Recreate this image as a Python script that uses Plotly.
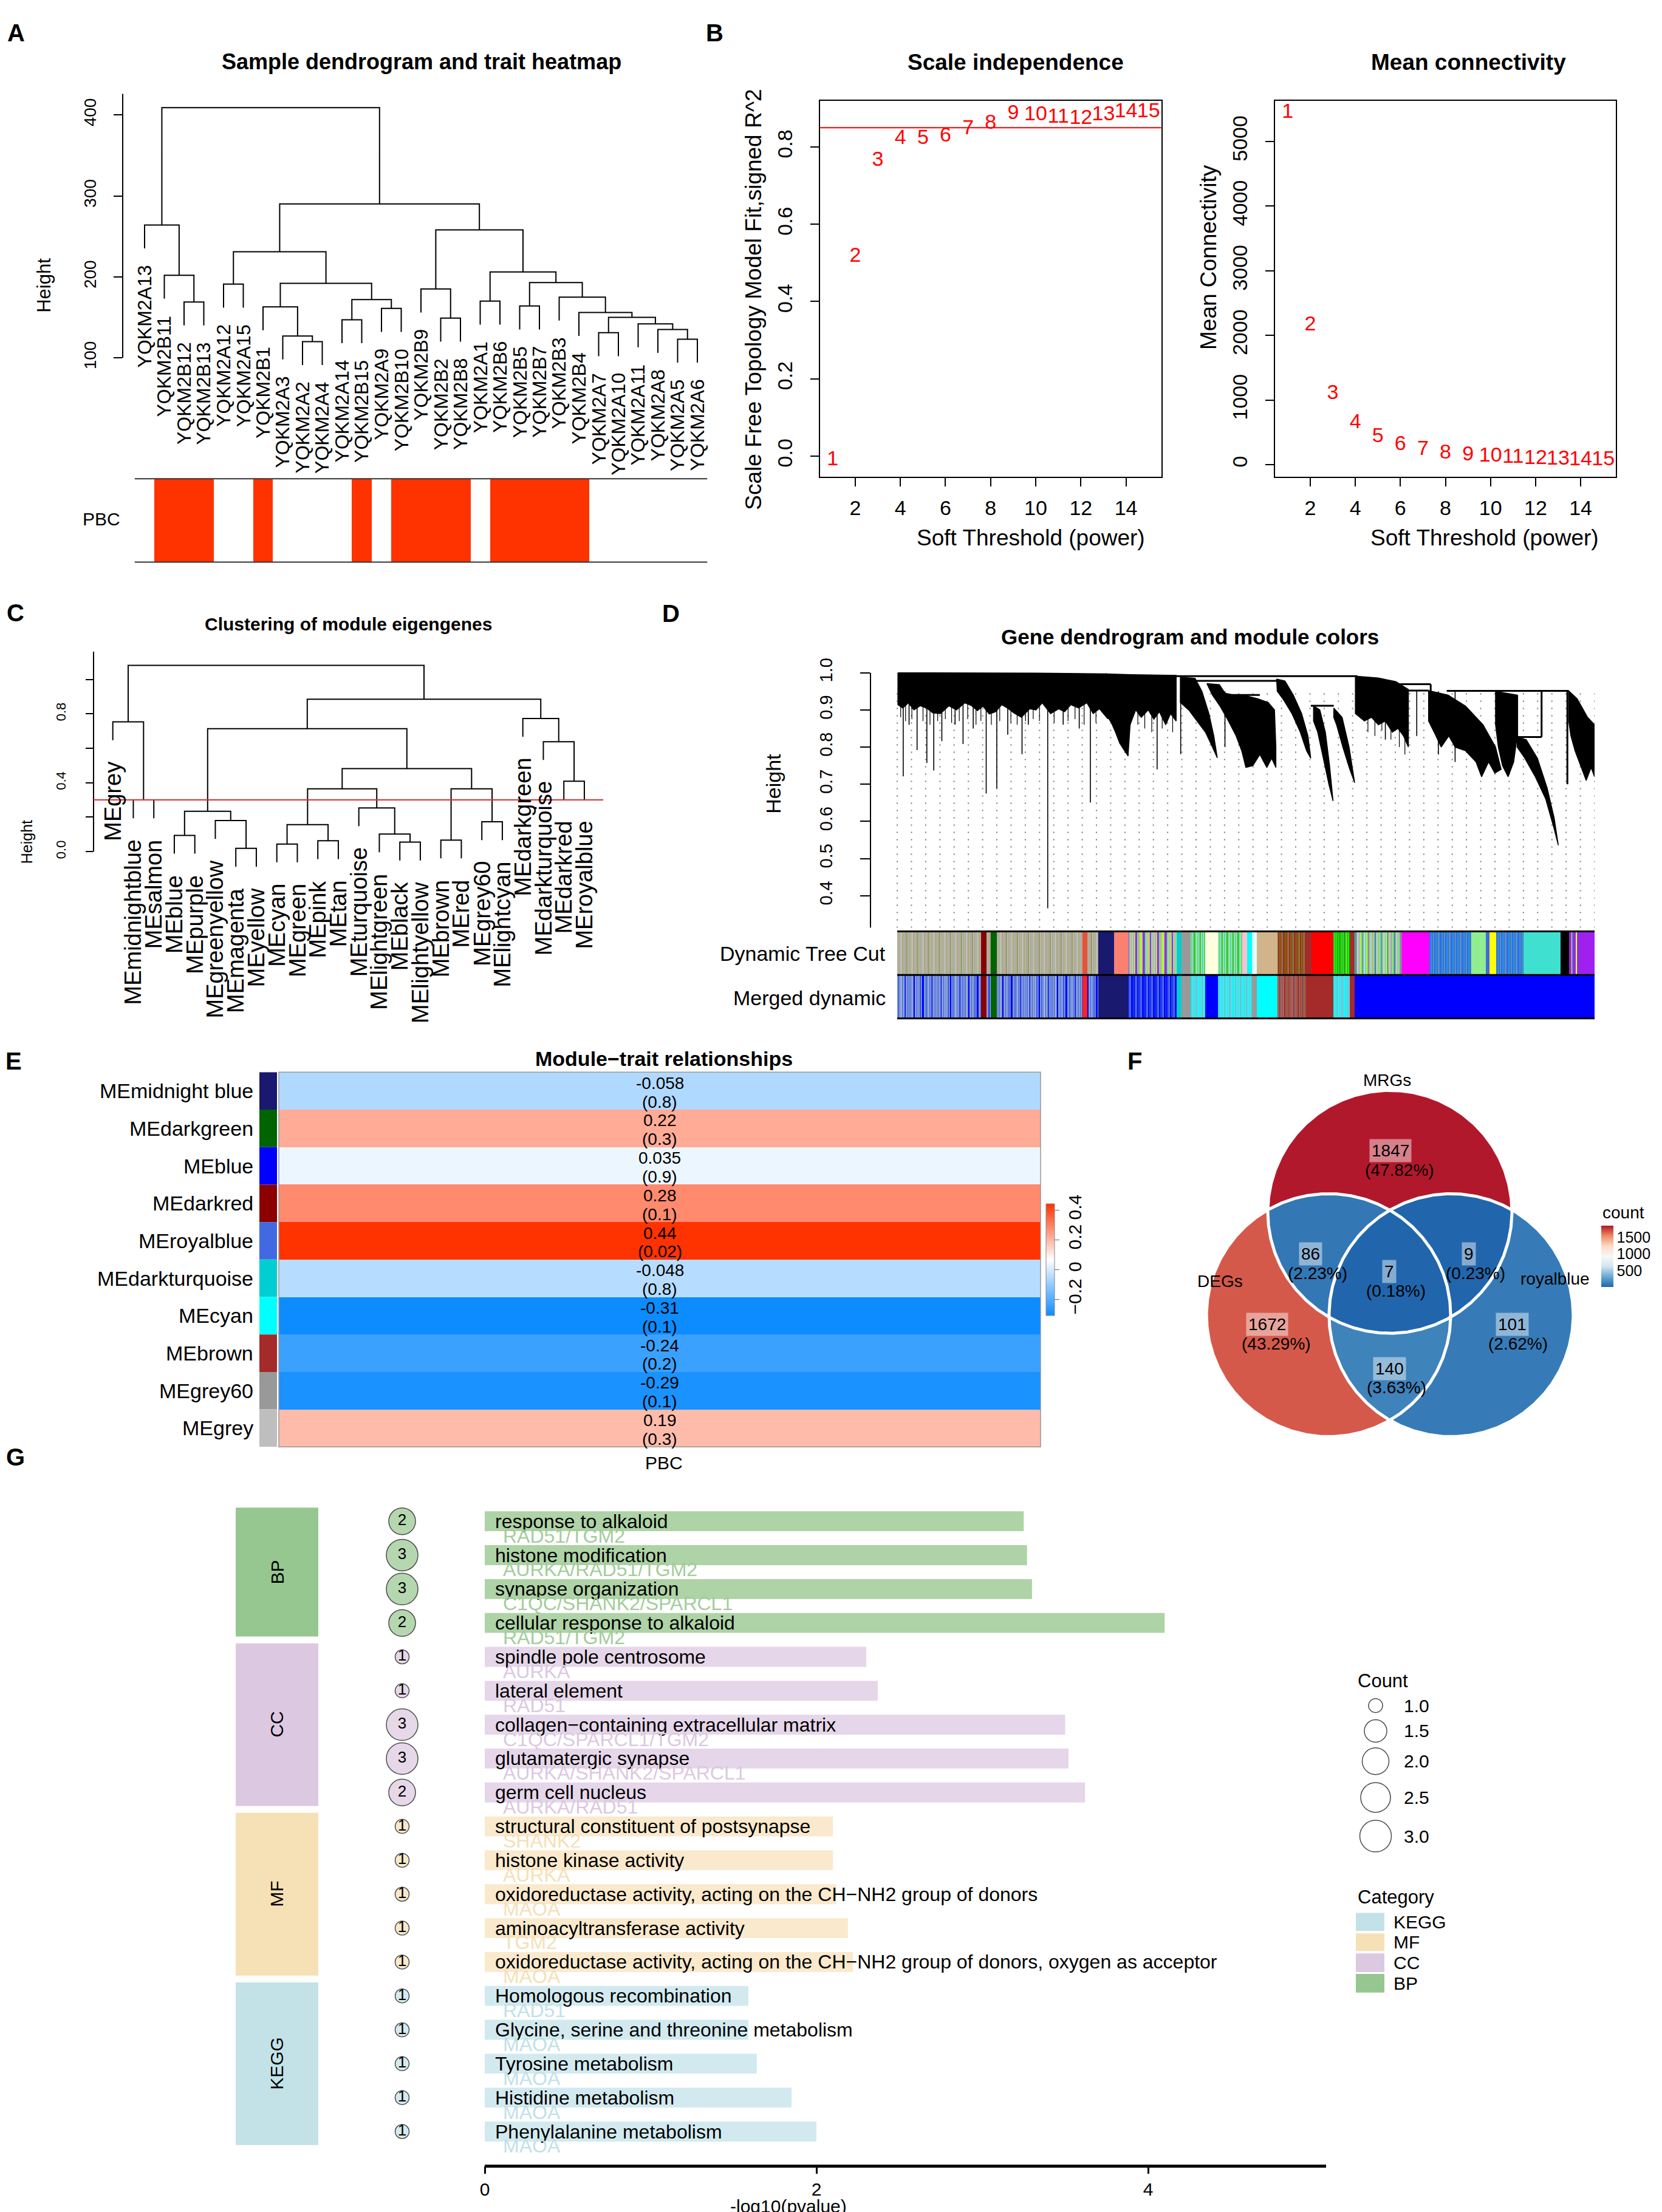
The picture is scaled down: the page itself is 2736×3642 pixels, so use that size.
import numpy as np
import plotly.graph_objects as go

W, H = 2736, 3642
FONT = "Liberation Sans"

# ======================= DATA =======================
# ---- A: sample dendrogram (leaf order, merges) and PBC trait ----
A_leaves = ["YQKM2A13", "YQKM2B11", "YQKM2B12", "YQKM2B13", "YQKM2A12", "YQKM2A15", "YQKM2B1",
            "YQKM2A3", "YQKM2A2", "YQKM2A4", "YQKM2A14", "YQKM2B15", "YQKM2A9", "YQKM2B10",
            "YQKM2B9", "YQKM2B2", "YQKM2B8", "YQKM2A1", "YQKM2B6", "YQKM2B5", "YQKM2B7",
            "YQKM2B3", "YQKM2B4", "YQKM2A7", "YQKM2A10", "YQKM2A11", "YQKM2A8", "YQKM2A5", "YQKM2A6"]
# (child1, child2, height): negative = leaf -(i+1), non-negative = index of an earlier merge
A_merges = [(-3, -4, 169), (-2, 0, 202), (-1, 1, 264), (-5, -6, 191), (-9, -10, 120), (-8, 4, 127),
            (-7, 5, 163), (-11, -12, 147), (-13, -14, 161), (7, 8, 172), (6, 9, 192), (3, 10, 231),
            (-16, -17, 149), (-15, 12, 185), (-18, -19, 170), (-20, -21, 164), (-28, -29, 123),
            (-27, 16, 135), (-26, 17, 142), (-24, -25, 131), (19, 18, 150), (-23, 20, 156),
            (-22, 21, 175), (15, 22, 193), (14, 23, 206), (13, 24, 258), (11, 25, 290), (2, 26, 409)]
A_pbc = [0, 1, 1, 1, 0, 0, 1, 0, 0, 0, 0, 1, 0, 1, 1, 1, 1, 0, 1, 1, 1, 1, 1, 0, 0, 0, 0, 0, 0]

# ---- B: soft threshold ----
B_power = list(range(1, 16))
B_sft_r2 = [-0.01, 0.516, 0.764, 0.821, 0.821, 0.827, 0.846, 0.861, 0.885, 0.883, 0.876, 0.873, 0.882, 0.891, 0.891]
B_mean_k = [5450, 2160, 1099, 643, 429, 305, 230, 177, 150, 130, 110, 95, 85, 75, 68]
B_r2_cut = 0.85

# ---- C: module eigengene clustering ----
C_leaves = ["MEgrey", "MEmidnightblue", "MEsalmon", "MEblue", "MEpurple", "MEgreenyellow", "MEmagenta",
            "MEyellow", "MEcyan", "MEgreen", "MEpink", "MEtan", "MEturquoise", "MElightgreen", "MEblack",
            "MElightyellow", "MEbrown", "MEred", "MEgrey60", "MElightcyan", "MEdarkgreen",
            "MEdarkturquoise", "MEdarkred", "MEroyalblue"]
C_merges = [(-2, -3, 0.300), (-1, 0, 0.753), (-4, -5, 0.094), (-7, -8, 0.019), (-6, 3, 0.180), (2, 4, 0.234),
            (-9, -10, 0.044), (-11, -12, 0.063), (6, 7, 0.157), (-15, -16, 0.055), (-14, 9, 0.102),
            (-13, 10, 0.254), (8, 11, 0.365), (-17, -18, 0.067), (-19, -20, 0.173), (13, 14, 0.365),
            (12, 15, 0.482), (5, 16, 0.714), (-23, -24, 0.409), (-22, 18, 0.638), (-21, 19, 0.773),
            (17, 20, 0.885), (1, 21, 1.081)]
C_cut = 0.3

# ---- D: gene dendrogram (outline: leaf fraction f, height v) ----
D_polys = [
    [(0.001, 1.0), (0.10, 1.0), (0.20, 0.999), (0.30, 0.997), (0.302, 0.876), (0.29, 0.903), (0.281, 0.89),
     (0.272, 0.919), (0.26, 0.905), (0.249, 0.914), (0.24, 0.895), (0.2315, 0.903), (0.22, 0.89), (0.208, 0.919),
     (0.199, 0.90), (0.19, 0.903), (0.178, 0.88), (0.167, 0.892), (0.158, 0.905), (0.15, 0.914), (0.141, 0.895),
     (0.132, 0.889), (0.123, 0.91), (0.115, 0.898), (0.106, 0.912), (0.097, 0.919), (0.085, 0.90), (0.074, 0.911),
     (0.062, 0.89), (0.051, 0.892), (0.042, 0.905), (0.033, 0.911), (0.024, 0.90), (0.016, 0.919), (0.008, 0.905),
     (0.001, 0.914)],
    [(0.298, 0.997), (0.334, 0.995), (0.334, 0.86), (0.331, 0.776), (0.326, 0.79), (0.319, 0.811), (0.313, 0.84),
     (0.307, 0.866), (0.302, 0.88)],
    [(0.334, 0.995), (0.40, 0.993), (0.40, 0.87), (0.392, 0.89), (0.385, 0.86), (0.376, 0.895), (0.368, 0.875),
     (0.36, 0.90), (0.35, 0.88), (0.342, 0.90), (0.334, 0.86)],
    [(0.406, 0.988), (0.427, 0.985), (0.437, 0.95), (0.447, 0.89), (0.454, 0.83), (0.459, 0.771), (0.452, 0.80),
     (0.442, 0.84), (0.43, 0.87), (0.418, 0.90), (0.406, 0.92)],
    [(0.444, 0.971), (0.462, 0.968), (0.47, 0.945), (0.482, 0.94), (0.50, 0.938), (0.517, 0.93), (0.532, 0.92),
     (0.541, 0.90), (0.543, 0.80), (0.543, 0.745), (0.537, 0.77), (0.53, 0.745), (0.52, 0.78), (0.51, 0.75),
     (0.50, 0.745), (0.494, 0.79), (0.486, 0.83), (0.475, 0.87), (0.463, 0.91), (0.452, 0.94)],
    [(0.544, 0.983), (0.556, 0.978), (0.568, 0.94), (0.58, 0.89), (0.589, 0.83), (0.593, 0.77), (0.587, 0.79),
     (0.578, 0.84), (0.566, 0.89), (0.553, 0.93), (0.545, 0.95)],
    [(0.597, 0.911), (0.606, 0.90), (0.614, 0.84), (0.62, 0.75), (0.625, 0.655), (0.619, 0.70), (0.611, 0.77),
     (0.603, 0.84), (0.597, 0.87)],
    [(0.626, 0.905), (0.638, 0.88), (0.648, 0.80), (0.656, 0.704), (0.649, 0.74), (0.639, 0.80), (0.63, 0.86),
     (0.626, 0.88)],
    [(0.657, 0.991), (0.69, 0.986), (0.715, 0.976), (0.733, 0.955), (0.733, 0.80), (0.726, 0.83), (0.718, 0.85),
     (0.71, 0.84), (0.70, 0.87), (0.69, 0.86), (0.68, 0.88), (0.67, 0.87), (0.657, 0.89)],
    [(0.762, 0.952), (0.79, 0.94), (0.815, 0.91), (0.84, 0.86), (0.858, 0.80), (0.866, 0.74), (0.857, 0.73),
     (0.848, 0.76), (0.838, 0.72), (0.83, 0.76), (0.815, 0.79), (0.80, 0.80), (0.791, 0.83), (0.78, 0.80),
     (0.77, 0.84), (0.762, 0.87)],
    [(0.858, 0.95), (0.889, 0.94), (0.889, 0.83), (0.884, 0.76), (0.876, 0.72), (0.868, 0.75), (0.862, 0.80),
     (0.858, 0.86)],
    [(0.889, 0.827), (0.902, 0.82), (0.918, 0.77), (0.932, 0.69), (0.942, 0.61), (0.948, 0.536), (0.942, 0.58),
     (0.93, 0.66), (0.915, 0.72), (0.90, 0.77), (0.889, 0.80)],
    [(0.963, 0.951), (0.975, 0.93), (0.99, 0.88), (1.0, 0.86), (1.0, 0.72), (0.995, 0.745), (0.988, 0.71),
     (0.98, 0.75), (0.972, 0.79), (0.966, 0.83), (0.963, 0.87)],
]
D_links = [(0.991, 0.39, 0.66), (0.978, 0.427, 0.544), (0.969, 0.66, 0.765), (0.952, 0.733, 0.762),
           (0.951, 0.788, 0.963), (0.911, 0.593, 0.626), (0.827, 0.889, 0.924), (0.94, 0.47, 0.52)]
D_verticals = [(0.924, 0.951, 0.827), (0.961, 0.951, 0.70), (0.889, 0.94, 0.827), (0.765, 0.969, 0.95)]
D_spikes = [(0.0086, 0.721), (0.017, 0.86), (0.0285, 0.792), (0.0425, 0.757), (0.0524, 0.737), (0.064, 0.816),
            (0.083, 0.86), (0.0944, 0.808), (0.109, 0.85), (0.1276, 0.675), (0.1428, 0.689), (0.1585, 0.833),
            (0.179, 0.781), (0.188, 0.86), (0.2158, 0.366), (0.238, 0.86), (0.261, 0.85), (0.277, 0.651),
            (0.3307, 0.776), (0.3727, 0.740), (0.4065, 0.781), (0.47, 0.80), (0.70, 0.82), (0.745, 0.83),
            (0.776, 0.78), (0.80, 0.76)]
D_hairs = [(0.005, 0.88), (0.012, 0.87), (0.021, 0.875), (0.037, 0.87), (0.047, 0.86), (0.058, 0.87),
           (0.069, 0.875), (0.078, 0.865), (0.089, 0.87), (0.101, 0.875), (0.113, 0.86), (0.12, 0.87),
           (0.135, 0.86), (0.147, 0.87), (0.163, 0.865), (0.172, 0.86), (0.184, 0.87), (0.195, 0.875),
           (0.204, 0.87), (0.225, 0.865), (0.245, 0.87), (0.255, 0.875), (0.268, 0.86), (0.285, 0.865),
           (0.345, 0.86), (0.355, 0.85), (0.365, 0.84), (0.38, 0.85), (0.395, 0.84), (0.675, 0.84),
           (0.685, 0.83), (0.695, 0.845), (0.708, 0.82), (0.72, 0.80), (0.728, 0.78)]
D_dtc_segments = [
    (0.000, 'mixA'), (0.120, '#8B0000'), (0.128, 'mixA'), (0.134, '#006400'), (0.143, 'mixA'), (0.266, '#E8503A'),
    (0.273, 'mixA'), (0.288, '#191970'), (0.311, '#FA8072'), (0.332, 'mixB'), (0.401, '#00CED1'), (0.408, '#999999'),
    (0.421, 'mixG'), (0.442, '#FFFFE0'), (0.460, 'mixG'), (0.495, '#FFC0CB'), (0.502, '#00FFFF'), (0.509, '#E0FFFF'),
    (0.516, '#D2B48C'), (0.545, 'mixBr'), (0.586, '#A52A2A'), (0.594, '#FF0000'), (0.625, 'mixGr'), (0.649, '#A52A2A'),
    (0.656, 'mixC'), (0.723, '#FF00FF'), (0.763, 'mixRB'), (0.823, '#90EE90'), (0.844, '#4169E1'), (0.849, '#FFFF00'),
    (0.859, 'mixRB'), (0.898, '#40E0D0'), (0.951, '#000000'), (0.963, 'mixPY'), (0.978, '#A020F0')]
D_merged_segments = [
    (0.000, 'mixBl'), (0.120, '#8B0000'), (0.128, 'mixBl'), (0.134, '#006400'), (0.143, 'mixBl'), (0.266, '#FF2020'),
    (0.273, 'mixBl'), (0.288, '#191970'), (0.331, 'mixBl2'), (0.401, '#00CED1'), (0.408, '#999999'), (0.421, 'mixCy'),
    (0.442, '#0000FF'), (0.460, 'mixCy'), (0.509, '#999999'), (0.516, '#00FFFF'), (0.545, 'mixBrM'), (0.586, '#A52A2A'),
    (0.625, 'mixCy'), (0.649, '#A52A2A'), (0.656, '#0000FF')]
D_mix = {
    'mixA': ['#B5B08C', '#A9A9A9', '#C8B88E', '#98AE88', '#BDBDBD', '#B0A070', '#A6B48E', '#C4A8A4', '#9AA2B4',
             '#B4BC6C', '#8E9A78', '#C9C2A0'],
    'mixB': ['#ADFF2F', '#D2B48C', '#A020F0', '#4169E1', '#BEBEBE', '#B8B070', '#90EE90', '#C0A0C0'],
    'mixG': ['#90EE90', '#66CDAA', '#7FFFD4', '#8FBC8F', '#32CD32', '#A0D8B0'],
    'mixBr': ['#8B4513', '#A0522D', '#6B8E23', '#8B7355', '#A52A2A', '#808000'],
    'mixGr': ['#00C000', '#32CD32', '#00FF00', '#228B22', '#7CFC00'],
    'mixC': ['#A9A9A9', '#ADFF2F', '#66CDAA', '#4682B4', '#B8B080', '#7FFFD4', '#BEBEBE'],
    'mixRB': ['#4169E1', '#1E90FF', '#4682B4', '#2F6FBF', '#5B8FD0', '#1C75C8'],
    'mixPY': ['#A020F0', '#FFFF00', '#4169E1', '#A020F0', '#8A2BE2'],
    'mixBl': ['#7A94D4', '#4169E1', '#8CA0D8', '#5A7FE0', '#A0B0DC', '#3050E8', '#9AA8C8', '#4F6FE8', '#0000FF',
              '#87A0D8'],
    'mixBl2': ['#0000FF', '#4169E1', '#1E3CFF', '#6A8FE8', '#0000FF', '#3A5FE0'],
    'mixCy': ['#00FFFF', '#40E0E0', '#7FDDE8', '#00E5EE', '#5FD0D8', '#87CEFA'],
    'mixBrM': ['#A52A2A', '#8B5A5A', '#996666', '#A0522D', '#B06060'],
}
D_stripe_w = [1, 2, 1, 1, 3, 1, 2, 2, 1, 1, 2, 1]

# ---- E: module-trait relationships ----
E_modules = ["MEmidnight blue", "MEdarkgreen", "MEblue", "MEdarkred", "MEroyalblue", "MEdarkturquoise",
             "MEcyan", "MEbrown", "MEgrey60", "MEgrey"]
E_colors = ["#191970", "#006400", "#0000FF", "#8B0000", "#4169E1", "#00CED1", "#00FFFF", "#A52A2A", "#999999", "#BEBEBE"]
E_cor = [-0.058, 0.22, 0.035, 0.28, 0.44, -0.048, -0.31, -0.24, -0.29, 0.19]
E_p = ["0.8", "0.3", "0.9", "0.1", "0.02", "0.8", "0.1", "0.2", "0.1", "0.3"]
E_trait = "PBC"

# ---- F: Venn (membership in DEGs, MRGs, royalblue) ----
F_sets = ["DEGs", "MRGs", "royalblue"]
F_regions = [(0, 1, 0), (1, 0, 0), (0, 0, 1), (1, 1, 0), (0, 1, 1), (1, 0, 1), (1, 1, 1)]
F_counts = [1847, 1672, 101, 86, 9, 140, 7]

# ---- G: enrichment ----
G_terms = ["response to alkaloid", "histone modification", "synapse organization", "cellular response to alkaloid",
           "spindle pole centrosome", "lateral element", "collagen\u2212containing extracellular matrix",
           "glutamatergic synapse", "germ cell nucleus", "structural constituent of postsynapse",
           "histone kinase activity", "oxidoreductase activity, acting on the CH\u2212NH2 group of donors",
           "aminoacyltransferase activity",
           "oxidoreductase activity, acting on the CH\u2212NH2 group of donors, oxygen as acceptor",
           "Homologous recombination", "Glycine, serine and threonine metabolism", "Tyrosine metabolism",
           "Histidine metabolism", "Phenylalanine metabolism"]
G_genes = ["RAD51/TGM2", "AURKA/RAD51/TGM2", "C1QC/SHANK2/SPARCL1", "RAD51/TGM2", "AURKA", "RAD51",
           "C1QC/SPARCL1/TGM2", "AURKA/SHANK2/SPARCL1", "AURKA/RAD51", "SHANK2", "AURKA", "MAOA", "TGM2", "MAOA",
           "RAD51", "MAOA", "MAOA", "MAOA", "MAOA"]
G_category = ["BP"] * 4 + ["CC"] * 5 + ["MF"] * 5 + ["KEGG"] * 5
G_count = [2, 3, 3, 2, 1, 1, 3, 3, 2, 1, 1, 1, 1, 1, 1, 1, 1, 1, 1]
G_logp = [3.25, 3.27, 3.30, 4.10, 2.30, 2.37, 3.50, 3.52, 3.62, 2.10, 2.10, 2.12, 2.19, 2.22, 1.59, 1.59, 1.64, 1.85, 2.00]
G_size_breaks = [1.0, 1.5, 2.0, 2.5, 3.0]
G_cat_order = ["KEGG", "MF", "CC", "BP"]

# ======================= STYLE =======================
G_block_col = {"BP": "#97C790", "CC": "#DDC8E1", "MF": "#F6E0B6", "KEGG": "#C2E2E8"}
G_bar_col = {"BP": "#AED3A6", "CC": "#E6D6E9", "MF": "#FAE9CC", "KEGG": "#D2EAEF"}
G_gene_col = {"BP": "#A2CD9A", "CC": "#DCC8E1", "MF": "#F5E0B6", "KEGG": "#C0E1E8"}
G_size_px = [23, 37, 44, 49, 52]
RDBU = ['#2166AC', '#67A9CF', '#D1E5F0', '#F7F7F7', '#FDDBC7', '#EF8A62', '#B2182B']
BWR = ['#0D8CFF', '#FFFFFF', '#FF3300']

# ======================= HELPERS =======================
fig = go.Figure()
ANN, SHP, LAY = [], [], {}
_n = [0]


def axes(xpx, ypx, xr, yr):
    _n[0] += 1
    s = '' if _n[0] == 1 else str(_n[0])
    base = dict(showgrid=False, zeroline=False, showticklabels=False, ticks='', showline=False, fixedrange=True)
    LAY['xaxis' + s] = dict(base, domain=[xpx[0] / W, xpx[1] / W], range=list(xr), anchor='y' + s)
    LAY['yaxis' + s] = dict(base, domain=[1 - ypx[1] / H, 1 - ypx[0] / H], range=list(yr), anchor='x' + s)
    return 'x' + s, 'y' + s, 'xaxis' + s, 'yaxis' + s


def xr_lin(xpx, ref_px, ref_val, ppu):
    return [ref_val + (xpx[0] - ref_px) / ppu, ref_val + (xpx[1] - ref_px) / ppu]


def yr_up(ypx, ref_px, ref_val, ppu):
    return [ref_val + (ref_px - ypx[1]) / ppu, ref_val + (ref_px - ypx[0]) / ppu]


def yr_down(ypx, ref_px, ref_val, ppu):
    return [ref_val + (ypx[1] - ref_px) / ppu, ref_val + (ypx[0] - ref_px) / ppu]


def text(t, x, y, size, color='black', bold=False, xanchor='center', yanchor='middle', angle=0,
         xref='paper', yref='paper', **kw):
    if xref == 'paper':
        x = x / W
    if yref == 'paper':
        y = 1 - y / H
    ANN.append(dict(text=('<b>%s</b>' % t) if bold else t, x=x, y=y, xref=xref, yref=yref, showarrow=False,
                    font=dict(family=FONT, size=size, color=color), xanchor=xanchor, yanchor=yanchor,
                    textangle=angle, **kw))


def pline(x0, y0, x1, y1, color='black', width=2):
    SHP.append(dict(type='line', xref='paper', yref='paper', x0=x0 / W, x1=x1 / W, y0=1 - y0 / H, y1=1 - y1 / H,
                    line=dict(color=color, width=width)))


def prect(x0, y0, x1, y1, fill, line=None, lw=0):
    SHP.append(dict(type='rect', xref='paper', yref='paper', x0=x0 / W, x1=x1 / W, y0=1 - y1 / H, y1=1 - y0 / H,
                    fillcolor=fill, line=dict(color=line or fill, width=lw), layer='above'))


def tickfont(size):
    return dict(family=FONT, size=size, color='black')


def dendro(merges, n_leaves):
    hs = [m[2] for m in merges]
    hang = 0.1 * (max(hs) - min(hs))
    nodes, xs, ys = [], [], []
    leaf_bottom = [None] * n_leaves
    for a, b, h in merges:
        pts = []
        for c in (a, b):
            if c < 0:
                i = -c - 1
                pts.append((float(i), h - hang))
                leaf_bottom[i] = h - hang
            else:
                pts.append(nodes[c])
        (xa_, ya_), (xb_, yb_) = pts
        xs += [xa_, xa_, xb_, xb_, None]
        ys += [ya_, h, h, yb_, None]
        nodes.append(((xa_ + xb_) / 2, h))
    return xs, ys, leaf_bottom


def hex2rgb(h):
    h = h.lstrip('#')
    return tuple(int(h[i:i + 2], 16) for i in (0, 2, 4))


def cmap(scale, t):
    t = min(max(t, 0.0), 1.0)
    n = len(scale) - 1
    k = min(int(t * n), n - 1)
    u = t * n - k
    c0, c1 = hex2rgb(scale[k]), hex2rgb(scale[k + 1])
    return 'rgb(%d,%d,%d)' % tuple(round(a + (b - a) * u) for a, b in zip(c0, c1))


def cscale(scale):
    n = len(scale) - 1
    return [[i / n, c] for i, c in enumerate(scale)]


# ======================= PANEL A =======================
A_X, A_Y = (194, 1165), (120, 780)
A_L0, A_LP, A_REF, A_PPU = 230, 32.5, 566, 1.34
xa, ya, XA, YA = axes(A_X, A_Y, xr_lin(A_X, A_L0, 0, A_LP), yr_up(A_Y, A_REF, 100, A_PPU))
dx, dy, lb = dendro(A_merges, len(A_leaves))
fig.add_trace(go.Scatter(x=dx, y=dy, mode='lines', line=dict(color='black', width=2), xaxis=xa, yaxis=ya,
                         hoverinfo='skip'))
LAY[YA].update(ticks='outside', ticklen=14, tickwidth=2, tickcolor='black', tickvals=[100, 200, 300, 400],
               showticklabels=True, tickangle=-90, tickfont=tickfont(28), ticklabelstandoff=18)
SHP.append(dict(type='line', xref=xa + ' domain', yref=ya, x0=0, x1=0, y0=100, y1=426,
                line=dict(color='black', width=2)))
for i, name in enumerate(A_leaves):
    text(name, i, lb[i] - 26 / A_PPU, 32, xref=xa, yref=ya, yanchor='top', angle=-90)
text('Height', 65, 446, 31, angle=-90)
text('Sample dendrogram and trait heatmap', 686, 76, 36, bold=True)

n_a = len(A_leaves)
xh, yh, XH, YH = axes((A_L0 - A_LP / 2, A_L0 + (n_a - 0.5) * A_LP), (766, 904), [-0.5, n_a - 0.5], [0, 1])
fig.add_trace(go.Heatmap(z=[A_pbc], x=list(range(n_a)), y=[0.5], colorscale=[[0, 'white'], [1, '#FF3300']],
                         zmin=0, zmax=1, showscale=False, xaxis=xh, yaxis=yh, hoverinfo='skip'))
pline(A_L0 - A_LP / 2, 766, A_L0 + (n_a - 0.5) * A_LP, 766, '#333', 2)
pline(A_L0 - A_LP / 2, 904, A_L0 + (n_a - 0.5) * A_LP, 904, '#333', 2)
text('PBC', 192, 833, 30, xanchor='right')

# ======================= PANEL B =======================
box = dict(showline=True, mirror=True, linecolor='black', linewidth=2, ticks='outside', ticklen=14, tickwidth=2,
           tickcolor='black', showticklabels=True, tickfont=tickfont(34))
xb1, yb1, XB1, YB1 = axes((1342, 1903.5), (141, 763), [0.44, 15.56], [-0.054, 0.919])
LAY[XB1].update(box, tickvals=list(range(2, 15, 2)), ticklabelstandoff=6)
LAY[YB1].update(box, tickvals=[0, 0.2, 0.4, 0.6, 0.8], ticktext=['0.0', '0.2', '0.4', '0.6', '0.8'],
                tickangle=-90, ticklabelstandoff=16)
fig.add_trace(go.Scatter(x=B_power, y=B_sft_r2, mode='text', text=[str(p) for p in B_power],
                         textfont=dict(family=FONT, size=34, color='#FF0000'), xaxis=xb1, yaxis=yb1,
                         hoverinfo='skip'))
SHP.append(dict(type='line', xref=xb1 + ' domain', yref=yb1, x0=0, x1=1, y0=B_r2_cut, y1=B_r2_cut,
                line=dict(color='#FF0000', width=2)))
xb2, yb2, XB2, YB2 = axes((2091, 2652), (141, 763), [0.44, 15.56], [-188, 5627])
LAY[XB2].update(box, tickvals=list(range(2, 15, 2)), ticklabelstandoff=6)
LAY[YB2].update(box, tickvals=[0, 1000, 2000, 3000, 4000, 5000], tickangle=-90, ticklabelstandoff=16)
fig.add_trace(go.Scatter(x=B_power, y=B_mean_k, mode='text', text=[str(p) for p in B_power],
                         textfont=dict(family=FONT, size=34, color='#FF0000'), xaxis=xb2, yaxis=yb2,
                         hoverinfo='skip'))
text('Scale independence', 1664, 77, 37, bold=True)
text('Mean connectivity', 2409, 77, 37, bold=True)
text('Scale Free Topology Model Fit,signed R^2', 1233, 470, 37, angle=-90)
text('Mean Connectivity', 1981, 400, 37, angle=-90)
text('Soft Threshold (power)', 1689, 864, 37)
text('Soft Threshold (power)', 2436, 864, 37)

# ======================= PANEL C =======================
C_X, C_Y = (146, 990), (1052, 1700)
C_L0, C_LP, C_REF, C_PPU = 177.7, 33.75, 1383, 285
xc, yc, XC, YC = axes(C_X, C_Y, xr_lin(C_X, C_L0, 0, C_LP), yr_up(C_Y, C_REF, 0, C_PPU))
cx_, cy_, clb = dendro(C_merges, len(C_leaves))
fig.add_trace(go.Scatter(x=cx_, y=cy_, mode='lines', line=dict(color='black', width=2), xaxis=xc, yaxis=yc,
                         hoverinfo='skip'))
LAY[YC].update(ticks='outside', ticklen=12, tickwidth=2, tickcolor='black',
               tickvals=[0, 0.2, 0.4, 0.6, 0.8, 1.0], ticktext=['0.0', '', '0.4', '', '0.8', ''],
               showticklabels=True, tickangle=-90, tickfont=tickfont(22), ticklabelstandoff=24)
SHP.append(dict(type='line', xref=xc + ' domain', yref=yc, x0=0, x1=0, y0=0, y1=1.161,
                line=dict(color='black', width=2)))
SHP.append(dict(type='line', xref=xc + ' domain', yref=yc, x0=0, x1=(985 - 146) / (990 - 146), y0=C_cut, y1=C_cut,
                line=dict(color='#D9302C', width=2)))
for i, name in enumerate(C_leaves):
    text(name, i, clb[i] - 33 / C_PPU, 38, xref=xc, yref=yc, yanchor='top', angle=-90)
text('Height', 36, 1367, 25, angle=-90)
text('Clustering of module eigengenes', 565, 1006, 30, bold=True)

# ======================= PANEL D =======================
D_X, D_Y = (1425, 2617), (1080, 1509)
D_L0, D_LW = 1469, 1148
xd, yd, XD, YD = axes(D_X, D_Y, xr_lin(D_X, D_L0, 0, D_LW), yr_up(D_Y, 1087, 1.0, 615))
LAY[YD].update(ticks='outside', ticklen=16, tickwidth=2, tickcolor='black',
               tickvals=[0.4, 0.5, 0.6, 0.7, 0.8, 0.9, 1.0], ticktext=['0.4', '0.5', '0.6', '0.7', '0.8', '0.9', '1.0'],
               showticklabels=True, tickangle=-90, tickfont=tickfont(29), ticklabelstandoff=34)
v_bottom = LAY[YD]['range'][0]
SHP.append(dict(type='line', xref=xd + ' domain', yref=yd, x0=0, x1=0, y0=v_bottom, y1=1.0,
                line=dict(color='black', width=2)))
gx_, gy_ = [], []
for k in range(50):
    f = k / 49
    gx_ += [f, f, None]
    gy_ += [v_bottom, 0.95, None]
fig.add_trace(go.Scatter(x=gx_, y=gy_, mode='lines', line=dict(color='#777777', width=2, dash='2px,10px'),
                         xaxis=xd, yaxis=yd, hoverinfo='skip'))
px_, py_ = [], []
for poly in D_polys:
    px_ += [p[0] for p in poly] + [poly[0][0], None]
    py_ += [p[1] for p in poly] + [poly[0][1], None]
fig.add_trace(go.Scatter(x=px_, y=py_, mode='lines', fill='toself', fillcolor='black',
                         line=dict(color='black', width=1.5), xaxis=xd, yaxis=yd, hoverinfo='skip'))
lx_, ly_ = [], []
for v, f0, f1 in D_links:
    lx_ += [f0, f1, None]
    ly_ += [v, v, None]
for f, v0, v1 in D_verticals:
    lx_ += [f, f, None]
    ly_ += [v0, v1, None]
fig.add_trace(go.Scatter(x=lx_, y=ly_, mode='lines', line=dict(color='black', width=3), xaxis=xd, yaxis=yd,
                         hoverinfo='skip'))
sx_, sy_ = [], []
for f, v in D_spikes:
    sx_ += [f, f, None]
    sy_ += [0.95, v, None]
fig.add_trace(go.Scatter(x=sx_, y=sy_, mode='lines', line=dict(color='black', width=1.6), xaxis=xd, yaxis=yd,
                         hoverinfo='skip'))
hx_, hy_ = [], []
for f, v in D_hairs:
    hx_ += [f, f, None]
    hy_ += [0.95, v, None]
fig.add_trace(go.Scatter(x=hx_, y=hy_, mode='lines', line=dict(color='black', width=1.2), xaxis=xd, yaxis=yd,
                         hoverinfo='skip'))


def mixed(pal, n, k0):
    out, k = [], k0
    while len(out) < n:
        out += [pal[k % len(pal)]] * D_stripe_w[k % len(D_stripe_w)]
        k += 1
    return out[:n]


def stripes(segs, ncol):
    cols = []
    bounds = [int(round(s[0] * ncol)) for s in segs] + [ncol]
    for k, (f0, c) in enumerate(segs):
        n = bounds[k + 1] - bounds[k]
        cols += mixed(D_mix[c], n, 3 * k) if c in D_mix else [c] * n
    return cols


NCOL = D_LW
rows = [stripes(D_dtc_segments, NCOL), stripes(D_merged_segments, NCOL)]
uniq = sorted(set(rows[0]) | set(rows[1]))
idx = {c: i for i, c in enumerate(uniq)}
cs = []
for i, c in enumerate(uniq):
    cs += [[i / len(uniq), c], [(i + 1) / len(uniq), c]]
xbar, ybar, _, _ = axes((D_L0, D_L0 + D_LW), (1515, 1659), [0, NCOL], [2, 0])
fig.add_trace(go.Heatmap(z=[[idx[c] + 0.5 for c in r] for r in rows], x=np.arange(NCOL) + 0.5, y=[0.5, 1.5],
                         colorscale=cs, zmin=0, zmax=len(uniq), showscale=False, xaxis=xbar, yaxis=ybar,
                         hoverinfo='skip'))
for yy in (1515, 1587, 1659):
    pline(D_L0, yy, D_L0 + D_LW, yy, 'black', 3)
text('Dynamic Tree Cut', 1452, 1552, 34, xanchor='right')
text('Merged dynamic', 1452, 1625, 34, xanchor='right')
text('Height', 1265, 1271, 34, angle=-90)
text('Gene dendrogram and module colors', 1951, 1028, 35, bold=True)

# ======================= PANEL E =======================
E_X, E_Y = (451, 1705), (1748, 2368)
nE = len(E_modules)
xe, ye, XE, YE = axes(E_X, E_Y, [-0.5, 0.5], [nE - 0.5, -0.5])
fig.add_trace(go.Heatmap(
    z=[[v] for v in E_cor], x=[0], y=list(range(nE)), colorscale=cscale(BWR), zmin=min(E_cor), zmax=max(E_cor),
    xaxis=xe, yaxis=ye, hoverinfo='skip',
    colorbar=dict(x=1714 / W, xanchor='left', y=1 - 1966 / H, yanchor='top', len=184, lenmode='pixels',
                  thickness=14, thicknessmode='pixels', outlinewidth=1, outlinecolor='#888888', ticks='outside',
                  ticklen=8, tickcolor='#666666', tickvals=[-0.2, 0, 0.2, 0.4],
                  ticktext=['\u22120.2', '0', '0.2', '0.4'], tickangle=-90, tickfont=tickfont(30), xpad=0, ypad=0)))
row_h = (E_Y[1] - E_Y[0]) / nE
for i in range(nE):
    SHP.append(dict(type='rect', xref='paper', yref=ye, x0=419 / W, x1=448 / W, y0=i - 0.5, y1=i + 0.5,
                    fillcolor=E_colors[i], line=dict(width=0), layer='above'))
    text(E_modules[i], 411, E_Y[0] + row_h * (i + 0.5), 34, xanchor='right')
    text('%g' % E_cor[i], 0, i - 13 / row_h, 28, xref=xe, yref=ye)
    text('(%s)' % E_p[i], 0, i + 18 / row_h, 28, xref=xe, yref=ye)
prect(E_X[0], E_Y[0], E_X[1], E_Y[1], 'rgba(0,0,0,0)', '#999999', 1.5)
text('Module\u2212trait relationships', 1085, 1726, 34, bold=True)
text(E_trait, 1085, 2394, 30)

# ======================= PANEL F =======================
F_X, F_Y = (1950, 2620), (1740, 2380)
F_PPU = 201
xf, yf, XF, YF = axes(F_X, F_Y, xr_lin(F_X, 2280, 0, F_PPU), yr_up(F_Y, 1979, 0.567, F_PPU))
F_centers = [(-0.502, -0.284), (0.0, 0.567), (0.502, -0.284)]  # layout geometry: DEGs, MRGs, royalblue
th = np.linspace(0, 2 * np.pi, 1441)


def region_poly(members):
    X, Y = [], []
    for i in members:
        ccx = F_centers[i][0] + np.cos(th)
        ccy = F_centers[i][1] + np.sin(th)
        m = np.ones_like(ccx, dtype=bool)
        for j in members:
            if j != i:
                m &= (ccx - F_centers[j][0]) ** 2 + (ccy - F_centers[j][1]) ** 2 <= 1 + 1e-9
        X += list(ccx[m])
        Y += list(ccy[m])
    X, Y = np.array(X), np.array(Y)
    o = np.argsort(np.arctan2(Y - Y.mean(), X - X.mean()))
    return list(X[o]) + [X[o][0]], list(Y[o]) + [Y[o][0]]


cmin_f, cmax_f = min(F_counts), max(F_counts)
order = sorted(range(len(F_regions)), key=lambda k: sum(F_regions[k]))
for k in order:
    mem = [i for i in range(3) if F_regions[k][i]]
    X, Y = region_poly(mem)
    col = cmap(RDBU, (F_counts[k] - cmin_f) / (cmax_f - cmin_f))
    fig.add_trace(go.Scatter(x=X, y=Y, mode='lines', fill='toself', fillcolor=col, line=dict(color=col, width=0.5),
                             xaxis=xf, yaxis=yf, hoverinfo='skip'))
for c in F_centers:
    fig.add_trace(go.Scatter(x=c[0] + np.cos(th), y=c[1] + np.sin(th), mode='lines',
                             line=dict(color='white', width=5), xaxis=xf, yaxis=yf, hoverinfo='skip'))
fig.add_trace(go.Scatter(x=[0], y=[0], mode='markers',
                         marker=dict(size=1, opacity=0, color=[cmin_f], cmin=cmin_f, cmax=cmax_f,
                                     colorscale=cscale(RDBU), showscale=True,
                                     colorbar=dict(x=2628 / W, xanchor='left', y=1 - 2002 / H, yanchor='top',
                                                   len=101, lenmode='pixels', thickness=20, thicknessmode='pixels',
                                                   outlinewidth=0, ticks='', tickvals=[500, 1000, 1500],
                                                   tickfont=tickfont(25), xpad=0, ypad=0)),
                         xaxis=xf, yaxis=yf, hoverinfo='skip'))
text('count', 2628, 1980, 28, xanchor='left')
total = sum(F_counts)
F_num_px = [(2281, 1878), (2078, 2165), (2481, 2165), (2149, 2049), (2410, 2049), (2279, 2239), (2279, 2078)]
F_pct_px = [(2296, 1910), (2093, 2197), (2491, 2197), (2161, 2081), (2421, 2081), (2291, 2270), (2290, 2110)]
for k in range(len(F_regions)):
    text(str(F_counts[k]), F_num_px[k][0], F_num_px[k][1], 28, bgcolor='rgba(255,255,255,0.45)', borderpad=3)
    text('(%.2f%%)' % (100 * F_counts[k] / total), F_pct_px[k][0], F_pct_px[k][1], 28)
F_set_px = [(2000, 2094), (2275, 1761), (2552, 2090)]
for i, s in enumerate(F_sets):
    text(s, F_set_px[i][0], F_set_px[i][1], 28)

# ======================= PANEL G =======================
G_X, G_Y = (380, 2175), (2440, 3558)
G_X0, G_PPU, G_R0, G_RP = 790, 273, 2491, 56.1
xg, yg, XG, YG = axes(G_X, G_Y, xr_lin(G_X, G_X0, 0, G_PPU), yr_down(G_Y, G_R0, 0, G_RP))
nG = len(G_terms)
rows_g = list(range(nG))
LAY[XG].update(ticks='outside', ticklen=12, tickwidth=3, tickcolor='black', tickvals=[0, 2, 4],
               showticklabels=True, tickfont=tickfont(30))
SHP.append(dict(type='line', xref=xg, yref=yg + ' domain', x0=0, x1=LAY[XG]['range'][1], y0=0, y1=0,
                line=dict(color='black', width=5)))
fig.add_trace(go.Bar(x=G_logp, y=rows_g, orientation='h', width=33 / G_RP,
                     marker=dict(color=[G_bar_col[c] for c in G_category], line=dict(width=0)),
                     xaxis=xg, yaxis=yg, hoverinfo='skip'))
for i in rows_g:
    text(G_terms[i], 805, i, 32, xanchor='left', yref=yg)
    text(G_genes[i], 818, i + 24 / G_RP, 32, color=G_gene_col[G_category[i]], xanchor='left', yref=yg)
sizes = np.interp(G_count, G_size_breaks, G_size_px)
fig.add_trace(go.Scatter(x=[(654 - G_X0) / G_PPU] * nG, y=rows_g, mode='markers+text',
                         marker=dict(size=sizes, color=[G_block_col[c] for c in G_category],
                                     line=dict(color='black', width=1.5)),
                         text=[str(c) for c in G_count], textfont=dict(family=FONT, size=26, color='black'),
                         textposition='middle center', cliponaxis=False, xaxis=xg, yaxis=yg, hoverinfo='skip'))
for cat in ["BP", "CC", "MF", "KEGG"]:
    ids = [i for i in rows_g if G_category[i] == cat]
    SHP.append(dict(type='rect', xref='paper', yref=yg, x0=380 / W, x1=516 / W, y0=ids[0] - 0.4, y1=ids[-1] + 0.4,
                    fillcolor=G_block_col[cat], line=dict(width=0), layer='below'))
    text(cat, 448, (ids[0] + ids[-1]) / 2, 30, angle=-90, yref=yg)
text('-log10(pvalue)', 1290, 3624, 30)

# legends (drawn on a full-page pixel canvas)
xk, yk, XK, YK = axes((0, W), (0, H), [0, W], [H, 0])
text('Count', 2225, 2755, 31, xanchor='left')
leg_y = [2796, 2838, 2888, 2948, 3012]
fig.add_trace(go.Scatter(x=[2256.5] * len(G_size_breaks), y=leg_y, mode='markers',
                         marker=dict(size=G_size_px, color='white', line=dict(color='black', width=1.5)),
                         xaxis=xk, yaxis=yk, hoverinfo='skip'))
for b, yy in zip(G_size_breaks, leg_y):
    text('%.1f' % b, 2301, yy, 30, xanchor='left')
text('Category', 2225, 3113, 31, xanchor='left')
sw = [(3139, 3169), (3173, 3202), (3206, 3237), (3240, 3271)]
for cat, (y0, y1) in zip(G_cat_order, sw):
    prect(2224, y0, 2271, y1, G_block_col[cat])
    text(cat, 2284, (y0 + y1) / 2, 30, xanchor='left')

# panel letters
for L, (lx, ly) in zip('ABCDEFG', [(18, 28), (1168, 28), (17, 988), (1096, 989), (14, 1730), (1860, 1730), (17, 2385)]):
    text(L, lx, ly, 40, bold=True)

fig.update_layout(width=W, height=H, autosize=False, margin=dict(l=0, r=0, t=0, b=0), paper_bgcolor='white',
                  plot_bgcolor='rgba(0,0,0,0)', showlegend=False, annotations=ANN, shapes=SHP,
                  font=dict(family=FONT, color='black'), **LAY)
fig.write_html("out.html")
